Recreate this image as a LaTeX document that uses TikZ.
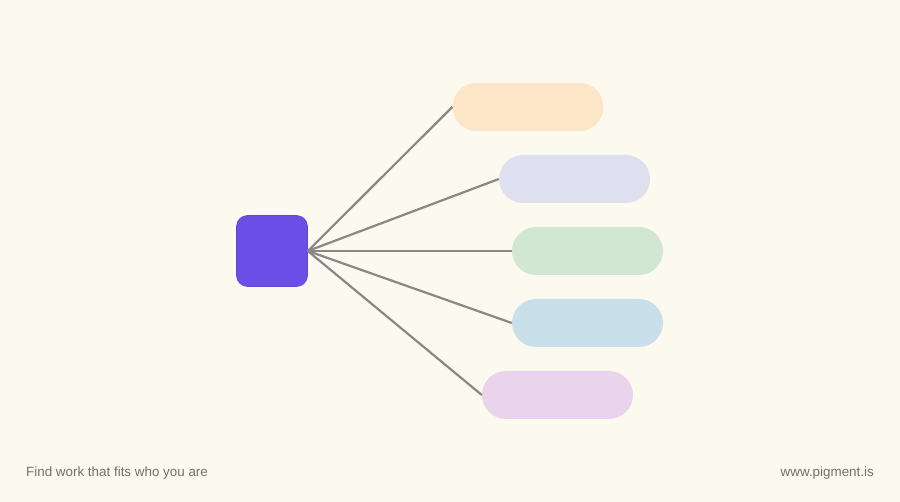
\documentclass[tikz,border=0pt]{standalone}
\usepackage{fontspec}
\usepackage{tikz}
\usepackage{xcolor}
\usetikzlibrary{shapes,positioning}
\newfontfamily\footfont{Liberation Sans}
\definecolor{cream}{RGB}{252,250,238}
\definecolor{hubviolet}{RGB}{106,78,230}
\definecolor{hubedge}{RGB}{96,68,218}
\definecolor{peach}{RGB}{253,229,199}
\definecolor{lavender}{RGB}{223,224,239}
\definecolor{mint}{RGB}{209,231,210}
\definecolor{skyblue}{RGB}{201,224,234}
\definecolor{orchid}{RGB}{234,211,236}
\definecolor{linegray}{RGB}{136,136,134}
\definecolor{footgray}{RGB}{112,112,112}
\tikzset{
        hub/.style={
            rectangle, draw=hubedge, fill=hubviolet,
            rounded corners=11pt, line width=0.6pt,
            minimum width=71pt, minimum height=71pt,
            inner sep=0pt
        },
        pill/.style={
            rectangle, draw=none, rounded corners=24pt,
            minimum width=151pt, minimum height=48pt,
            inner sep=0pt
        },
        link/.style={
            draw=linegray, line width=2.2pt
        },
        footer/.style={
            text=footgray, inner sep=0pt,
            font=\footfont\fontsize{13.4}{16}\selectfont
        }
    }

\begin{document}
\begin{tikzpicture}[
    x = 1pt, y = -1pt,
  ]
    \fill[cream] (0,0) rectangle (900,502);
    \useasboundingbox (0,0) rectangle (900,502);

    \node[hub] (H) at (272,251) {};
    \node[pill, fill=peach] (P1) at (528,107) {};
    \node[pill, fill=lavender] (P2) at (574.5,179) {};
    \node[pill, fill=mint] (P3) at (587.5,251) {};
    \node[pill, fill=skyblue] (P4) at (587.5,323) {};
    \node[pill, fill=orchid] (P5) at (557.5,395) {};

    \path[link]
    (H.east) edge (P1.west)
    (H.east) edge (P2.west)
    (H.east) edge (P3.west)
    (H.east) edge (P4.west)
    (H.east) edge (P5.west);

    \node[footer, anchor=base west] (tag) at (26,477) {Find work that fits who you are};
    \node[footer, anchor=base east] (url) at (874,477) {www.pigment.is};

\end{tikzpicture}
\end{document}
